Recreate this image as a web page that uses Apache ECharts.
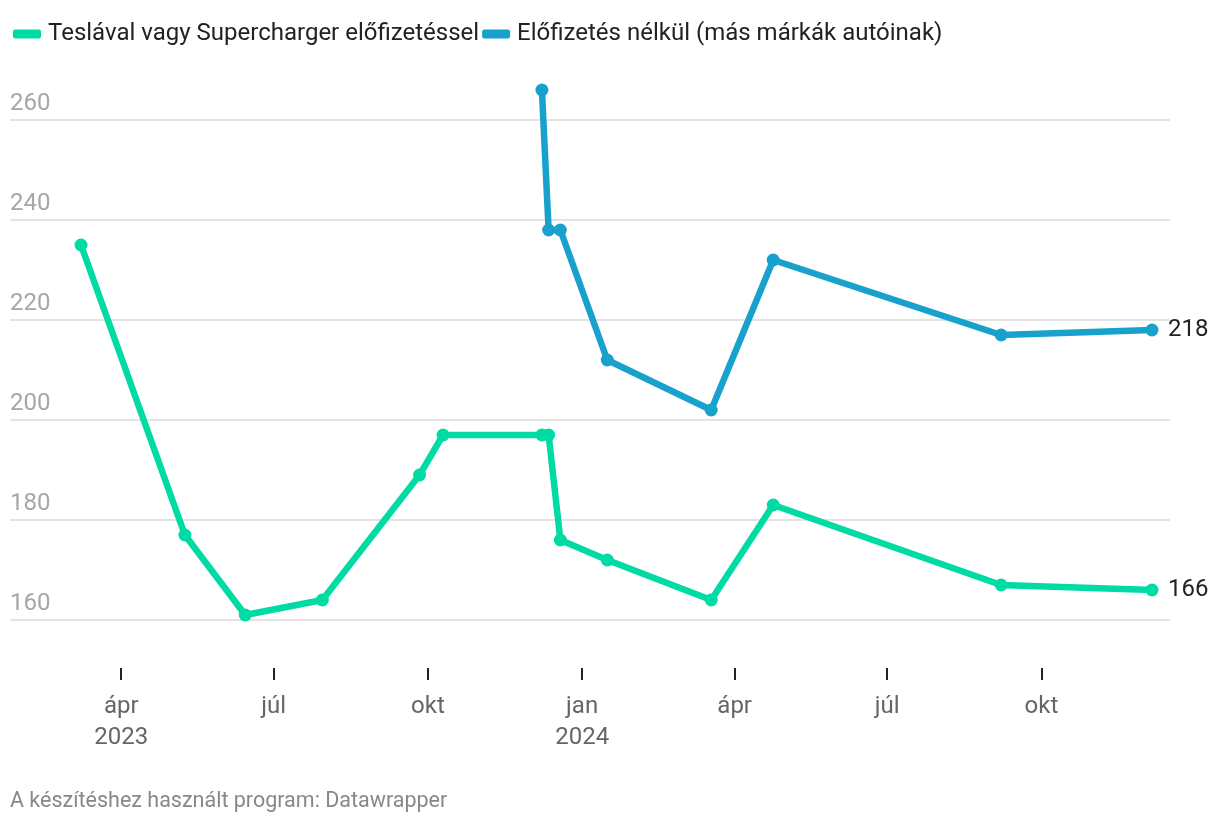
<!DOCTYPE html>
<html>
<head>
<meta charset="utf-8">
<script src="https://cdn.jsdelivr.net/npm/echarts@6/dist/echarts.min.js"></script>
<style>
html,body{margin:0;padding:0;background:#fff;}
#chart{width:1220px;height:826px;}
</style>
</head>
<body>
<div id="chart"></div>
<script>
const seriesNames = ['Teslával vagy Supercharger előfizetéssel', 'Előfizetés nélkül (más márkák autóinak)'];
const greenDates = ['2023-03-08','2023-05-09','2023-06-14','2023-07-30','2023-09-26','2023-10-10','2023-12-08','2023-12-12','2023-12-19','2024-01-16','2024-03-18','2024-04-24','2024-09-07','2024-12-06'];
const greenValues = [235,177,161,164,189,197,197,197,176,172,164,183,167,166];
const blueDates = ['2023-12-08','2023-12-12','2023-12-19','2024-01-16','2024-03-18','2024-04-24','2024-09-07','2024-12-06'];
const blueValues = [266,238,238,212,202,232,217,218];
const tickDates = ['2023-04-01','2023-07-01','2023-10-01','2024-01-01','2024-04-01','2024-07-01','2024-10-01'];
const monthNames = ['jan','febr','márc','ápr','máj','jún','júl','aug','szept','okt','nov','dec'];
const yTicks = [160,180,200,220,240,260];
const footerText = 'A készítéshez használt program: Datawrapper';

const ts = d => new Date(d + 'T00:00:00Z').getTime();
const green = greenDates.map((d, i) => [ts(d), greenValues[i]]);
const blue = blueDates.map((d, i) => [ts(d), blueValues[i]]);
const tickTs = tickDates.map(ts);

const GREEN = '#00dba4';
const BLUE = '#18a1cd';
const FONT = 'Roboto, "Noto Sans", sans-serif';

const chart = echarts.init(document.getElementById('chart'), null, {renderer: 'canvas'});
chart.setOption({
  backgroundColor: '#fff',
  animation: false,
  textStyle: {fontFamily: FONT},
  legend: {
    left: 8, top: 17,
    icon: 'roundRect',
    itemWidth: 28, itemHeight: 9,
    itemGap: 3,
    textStyle: {fontSize: 24, color: '#222', fontFamily: FONT, padding: [0, 0, 0, 2]},
    data: seriesNames
  },
  title: {
    text: footerText,
    left: 5, bottom: 8,
    textStyle: {fontSize: 21.5, fontWeight: 'normal', color: '#888', fontFamily: FONT}
  },
  grid: [
    {left: 81, right: 68, top: 120, height: 500, outerBoundsMode: 'none'},
    {left: 10, right: 50, top: 120, height: 500, outerBoundsMode: 'none'}
  ],
  xAxis: [
    {
      gridIndex: 0, type: 'value',
      min: green[0][0], max: green[green.length - 1][0],
      offset: 48,
      axisLine: {show: false},
      splitLine: {show: false},
      axisTick: {show: true, length: 12, lineStyle: {color: '#222', width: 2}, customValues: tickTs},
      axisLabel: {
        customValues: tickTs,
        margin: 23.5,
        fontSize: 24, color: '#666', lineHeight: 31, fontFamily: FONT,
        formatter: function (v) {
          const d = new Date(v);
          const m = d.getUTCMonth();
          const y = d.getUTCFullYear();
          if (v === tickTs[0] || m === 0) return monthNames[m] + '\n' + y;
          return monthNames[m];
        }
      }
    },
    {gridIndex: 1, type: 'value', min: 0, max: 1, show: false}
  ],
  yAxis: [
    {gridIndex: 0, type: 'value', min: 160, max: 260, interval: 20, show: false},
    {
      gridIndex: 1, type: 'value', min: 160, max: 260, interval: 20,
      axisLine: {show: false}, axisTick: {show: false},
      splitLine: {show: true, lineStyle: {color: '#e3e3e3', width: 2}},
      axisLabel: {
        inside: true, margin: 0, verticalAlign: 'bottom', padding: [0, 0, 4, 0],
        fontSize: 24, color: '#a6a6a6', fontFamily: FONT,
        formatter: v => yTicks.includes(v) ? String(v) : ''
      }
    }
  ],
  series: [
    {
      name: seriesNames[0], type: 'line', xAxisIndex: 0, yAxisIndex: 0,
      data: green, clip: false,
      color: GREEN,
      lineStyle: {width: 6.5, color: GREEN, join: 'round', cap: 'round'},
      symbol: 'circle', symbolSize: 13,
      itemStyle: {color: GREEN},
      endLabel: {show: true, formatter: p => String(p.value[1]), fontSize: 24, color: '#222', distance: 16, fontFamily: FONT}
    },
    {
      name: seriesNames[1], type: 'line', xAxisIndex: 0, yAxisIndex: 0,
      data: blue, clip: false,
      color: BLUE,
      lineStyle: {width: 6.5, color: BLUE, join: 'round', cap: 'round'},
      symbol: 'circle', symbolSize: 13,
      itemStyle: {color: BLUE},
      endLabel: {show: true, formatter: p => String(p.value[1]), fontSize: 24, color: '#222', distance: 16, fontFamily: FONT}
    }
  ]
});
</script>
</body>
</html>
